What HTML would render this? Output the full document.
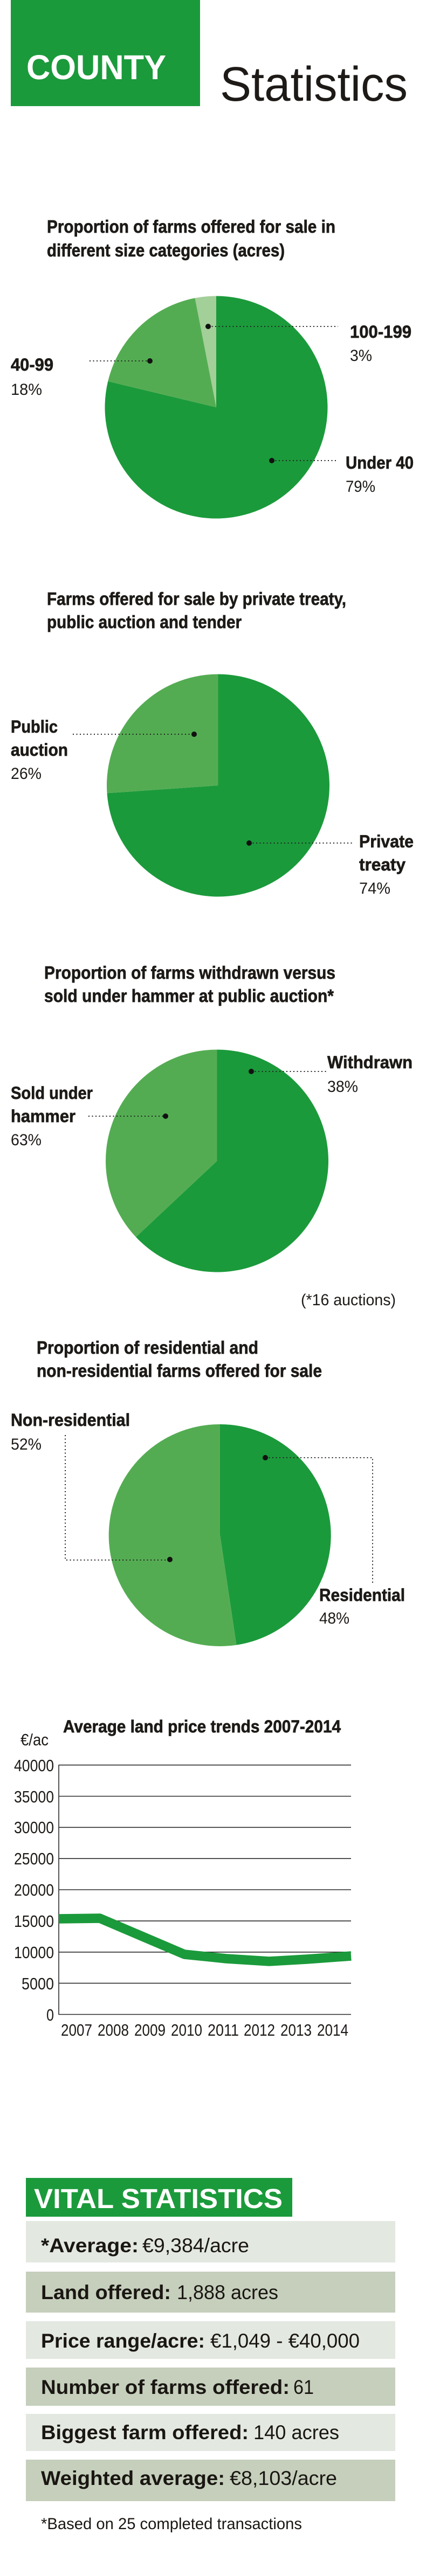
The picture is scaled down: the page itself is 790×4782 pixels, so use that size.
<!DOCTYPE html>
<html>
<head>
<meta charset="utf-8">
<style>
html,body{margin:0;padding:0;background:#fff;}
svg{display:block;}
.hb{stroke:#1d1a17;stroke-width:0.7;}
</style>
</head>
<body>
<svg width="790" height="4782" viewBox="0 0 790 4782" xmlns="http://www.w3.org/2000/svg" font-family="'Liberation Sans', Arial, sans-serif">
<rect x="0" y="0" width="790" height="4782" fill="#ffffff"/>

<!-- Header -->
<rect x="20" y="0" width="351" height="197" fill="#1b9a3b"/>
<text x="49" y="147" font-size="64" font-weight="bold" fill="#ffffff" textLength="259" lengthAdjust="spacingAndGlyphs">COUNTY</text>
<text x="408" y="187" font-size="90" fill="#1d1a17" textLength="348" lengthAdjust="spacingAndGlyphs">Statistics</text>

<g fill="#1d1a17">
<!-- Title 1 -->
<text class="hb" x="87" y="432" font-size="33" font-weight="bold" textLength="535" lengthAdjust="spacingAndGlyphs">Proportion of farms offered for sale in</text>
<text class="hb" x="87" y="476" font-size="33" font-weight="bold" textLength="441" lengthAdjust="spacingAndGlyphs">different size categories (acres)</text>
</g>

<!-- Pie 1 -->
<path d="M401,756 L401,549.5 A206.5,206.5 0 1 1 200.2,707.8 Z" fill="#1b9a3b"/>
<path d="M401,756 L200.2,707.8 A206.5,206.5 0 0 1 361.6,553.3 Z" fill="#54ac52"/>
<path d="M401,756 L361.6,553.3 A206.5,206.5 0 0 1 401,549.5 Z" fill="#a3cf98"/>
<g stroke="#222" stroke-width="2" stroke-dasharray="2 4.5" fill="none">
<line x1="386" y1="606" x2="627" y2="606"/>
<line x1="166" y1="670" x2="278" y2="670"/>
<line x1="504" y1="855" x2="627" y2="855"/>
</g>
<g fill="#111">
<circle cx="386" cy="606" r="5"/>
<circle cx="278" cy="670" r="5"/>
<circle cx="504" cy="855" r="5"/>
</g>
<g fill="#1d1a17">
<text class="hb" x="649" y="627" font-size="32" font-weight="bold" textLength="114" lengthAdjust="spacingAndGlyphs">100-199</text>
<text x="649" y="670" font-size="30" textLength="41" lengthAdjust="spacingAndGlyphs">3%</text>
<text class="hb" x="20" y="688" font-size="32" font-weight="bold" textLength="79" lengthAdjust="spacingAndGlyphs">40-99</text>
<text x="20" y="733" font-size="30" textLength="58" lengthAdjust="spacingAndGlyphs">18%</text>
<text class="hb" x="641" y="870" font-size="32" font-weight="bold" textLength="126" lengthAdjust="spacingAndGlyphs">Under 40</text>
<text x="641" y="913" font-size="30" textLength="55" lengthAdjust="spacingAndGlyphs">79%</text>

<!-- Title 2 -->
<text class="hb" x="87" y="1123" font-size="33" font-weight="bold" textLength="555" lengthAdjust="spacingAndGlyphs">Farms offered for sale by private treaty,</text>
<text class="hb" x="87" y="1166" font-size="33" font-weight="bold" textLength="361" lengthAdjust="spacingAndGlyphs">public auction and tender</text>
</g>

<!-- Pie 2 -->
<path d="M404.5,1458 L404.5,1251.5 A206.5,206.5 0 1 1 198.5,1472.4 Z" fill="#1b9a3b"/>
<path d="M404.5,1458 L198.5,1472.4 A206.5,206.5 0 0 1 404.5,1251.5 Z" fill="#54ac52"/>
<g stroke="#222" stroke-width="2" stroke-dasharray="2 4.5" fill="none">
<line x1="135" y1="1363" x2="360" y2="1363"/>
<line x1="462" y1="1565" x2="657" y2="1565"/>
</g>
<g fill="#111">
<circle cx="360" cy="1363" r="5"/>
<circle cx="462" cy="1565" r="5"/>
</g>
<g fill="#1d1a17">
<text class="hb" x="20" y="1360" font-size="32" font-weight="bold" textLength="87" lengthAdjust="spacingAndGlyphs">Public</text>
<text class="hb" x="20" y="1403" font-size="32" font-weight="bold" textLength="106" lengthAdjust="spacingAndGlyphs">auction</text>
<text x="20" y="1446" font-size="30" textLength="57" lengthAdjust="spacingAndGlyphs">26%</text>
<text class="hb" x="666" y="1573" font-size="32" font-weight="bold" textLength="101" lengthAdjust="spacingAndGlyphs">Private</text>
<text class="hb" x="666" y="1616" font-size="32" font-weight="bold" textLength="86" lengthAdjust="spacingAndGlyphs">treaty</text>
<text x="666" y="1659" font-size="30" textLength="58" lengthAdjust="spacingAndGlyphs">74%</text>

<!-- Title 3 -->
<text class="hb" x="82" y="1817" font-size="33" font-weight="bold" textLength="540" lengthAdjust="spacingAndGlyphs">Proportion of farms withdrawn versus</text>
<text class="hb" x="82" y="1860" font-size="33" font-weight="bold" textLength="537" lengthAdjust="spacingAndGlyphs">sold under hammer at public auction*</text>
</g>

<!-- Pie 3 -->
<path d="M402.5,2155 L402.5,1948.5 A206.5,206.5 0 1 1 252,2296.4 Z" fill="#1b9a3b"/>
<path d="M402.5,2155 L252,2296.4 A206.5,206.5 0 0 1 402.5,1948.5 Z" fill="#54ac52"/>
<g stroke="#222" stroke-width="2" stroke-dasharray="2 4.5" fill="none">
<line x1="466" y1="1989" x2="605" y2="1989"/>
<line x1="164" y1="2072" x2="307" y2="2072"/>
</g>
<g fill="#111">
<circle cx="466" cy="1989" r="5"/>
<circle cx="307" cy="2072" r="5"/>
</g>
<g fill="#1d1a17">
<text class="hb" x="607" y="1983" font-size="32" font-weight="bold" textLength="158" lengthAdjust="spacingAndGlyphs">Withdrawn</text>
<text x="607" y="2027" font-size="30" textLength="57" lengthAdjust="spacingAndGlyphs">38%</text>
<text class="hb" x="20" y="2040" font-size="32" font-weight="bold" textLength="152" lengthAdjust="spacingAndGlyphs">Sold under</text>
<text class="hb" x="20" y="2083" font-size="32" font-weight="bold" textLength="120" lengthAdjust="spacingAndGlyphs">hammer</text>
<text x="20" y="2126" font-size="30" textLength="57" lengthAdjust="spacingAndGlyphs">63%</text>
<text x="558" y="2423" font-size="30" textLength="176" lengthAdjust="spacingAndGlyphs">(*16 auctions)</text>

<!-- Title 4 -->
<text class="hb" x="68" y="2513" font-size="33" font-weight="bold" textLength="411" lengthAdjust="spacingAndGlyphs">Proportion of residential and</text>
<text class="hb" x="68" y="2556" font-size="33" font-weight="bold" textLength="529" lengthAdjust="spacingAndGlyphs">non-residential farms offered for sale</text>
</g>

<!-- Pie 4 -->
<path d="M408,2850 L408,2644 A206,206 0 0 1 438.4,3053.7 Z" fill="#1b9a3b"/>
<path d="M408,2850 L438.4,3053.7 A206,206 0 1 1 408,2644 Z" fill="#54ac52"/>
<g stroke="#222" stroke-width="2" stroke-dasharray="2 4.5" fill="none">
<path d="M121,2664 V2896 H315"/>
<path d="M492,2706 H691 V2939"/>
</g>
<g fill="#111">
<circle cx="315" cy="2895" r="5"/>
<circle cx="492" cy="2706" r="5"/>
</g>
<g fill="#1d1a17">
<text class="hb" x="20" y="2647" font-size="32" font-weight="bold" textLength="221" lengthAdjust="spacingAndGlyphs">Non-residential</text>
<text x="20" y="2691" font-size="30" textLength="57" lengthAdjust="spacingAndGlyphs">52%</text>
<text class="hb" x="592" y="2972" font-size="32" font-weight="bold" textLength="159" lengthAdjust="spacingAndGlyphs">Residential</text>
<text x="592" y="3014" font-size="30" textLength="56" lengthAdjust="spacingAndGlyphs">48%</text>

<!-- Title 5 -->
<text class="hb" x="117" y="3216" font-size="32" font-weight="bold" textLength="515" lengthAdjust="spacingAndGlyphs">Average land price trends 2007-2014</text>
</g>

<!-- Line chart -->
<g stroke="#2a2a2a" stroke-width="1.6">
<line x1="109" y1="3276.6" x2="651" y2="3276.6"/>
<line x1="109" y1="3334.5" x2="651" y2="3334.5"/>
<line x1="109" y1="3392.3" x2="651" y2="3392.3"/>
<line x1="109" y1="3450.2" x2="651" y2="3450.2"/>
<line x1="109" y1="3508.0" x2="651" y2="3508.0"/>
<line x1="109" y1="3565.9" x2="651" y2="3565.9"/>
<line x1="109" y1="3623.8" x2="651" y2="3623.8"/>
<line x1="109" y1="3681.6" x2="651" y2="3681.6"/>
<line x1="109" y1="3739.5" x2="651" y2="3739.5"/>
<line x1="109" y1="3276" x2="109" y2="3740"/>
</g>
<polyline points="109,3562 185,3561 342,3628 420,3636 499,3641 569,3637 651,3631" fill="none" stroke="#1b9a3b" stroke-width="17.5" stroke-linejoin="round" stroke-linecap="butt"/>
<g fill="#1d1a17" font-size="31">
<text x="38" y="3240" textLength="52" lengthAdjust="spacingAndGlyphs">€/ac</text>
<text x="26" y="3288" textLength="74" lengthAdjust="spacingAndGlyphs">40000</text>
<text x="26" y="3346" textLength="74" lengthAdjust="spacingAndGlyphs">35000</text>
<text x="26" y="3403" textLength="74" lengthAdjust="spacingAndGlyphs">30000</text>
<text x="26" y="3461" textLength="74" lengthAdjust="spacingAndGlyphs">25000</text>
<text x="26" y="3519" textLength="74" lengthAdjust="spacingAndGlyphs">20000</text>
<text x="26" y="3577" textLength="74" lengthAdjust="spacingAndGlyphs">15000</text>
<text x="26" y="3635" textLength="74" lengthAdjust="spacingAndGlyphs">10000</text>
<text x="40" y="3693" textLength="60" lengthAdjust="spacingAndGlyphs">5000</text>
<text x="86" y="3751" textLength="14" lengthAdjust="spacingAndGlyphs">0</text>
<text x="113" y="3779" textLength="58" lengthAdjust="spacingAndGlyphs">2007</text>
<text x="181" y="3779" textLength="58" lengthAdjust="spacingAndGlyphs">2008</text>
<text x="249" y="3779" textLength="58" lengthAdjust="spacingAndGlyphs">2009</text>
<text x="317" y="3779" textLength="58" lengthAdjust="spacingAndGlyphs">2010</text>
<text x="385" y="3779" textLength="58" lengthAdjust="spacingAndGlyphs">2011</text>
<text x="452" y="3779" textLength="58" lengthAdjust="spacingAndGlyphs">2012</text>
<text x="520" y="3779" textLength="58" lengthAdjust="spacingAndGlyphs">2013</text>
<text x="588" y="3779" textLength="58" lengthAdjust="spacingAndGlyphs">2014</text>
</g>

<!-- Vital statistics -->
<rect x="48" y="4043" width="494" height="72" fill="#1b9a3b"/>
<text x="63" y="4099" font-size="51" font-weight="bold" fill="#ffffff" textLength="461" lengthAdjust="spacingAndGlyphs">VITAL STATISTICS</text>

<rect x="48" y="4123" width="685" height="77" fill="#e3e8e1"/>
<rect x="48" y="4217" width="685" height="76" fill="#c5cfbc"/>
<rect x="48" y="4309" width="685" height="70" fill="#e3e8e1"/>
<rect x="48" y="4395" width="685" height="71" fill="#c5cfbc"/>
<rect x="48" y="4481" width="685" height="69" fill="#e3e8e1"/>
<rect x="48" y="4566" width="685" height="77" fill="#c5cfbc"/>

<g fill="#1a1612" font-size="37">
<text x="76" y="4181" font-weight="bold" textLength="181" lengthAdjust="spacingAndGlyphs">*Average:</text>
<text x="264" y="4181" textLength="198" lengthAdjust="spacingAndGlyphs">€9,384/acre</text>

<text x="76" y="4268" font-weight="bold" textLength="241" lengthAdjust="spacingAndGlyphs">Land offered:</text>
<text x="328" y="4268" textLength="188" lengthAdjust="spacingAndGlyphs">1,888 acres</text>

<text x="76" y="4358" font-weight="bold" textLength="304" lengthAdjust="spacingAndGlyphs">Price range/acre:</text>
<text x="390" y="4358" textLength="277" lengthAdjust="spacingAndGlyphs">€1,049 - €40,000</text>

<text x="76" y="4444" font-weight="bold" textLength="461" lengthAdjust="spacingAndGlyphs">Number of farms offered:</text>
<text x="544" y="4444" textLength="38" lengthAdjust="spacingAndGlyphs">61</text>

<text x="76" y="4528" font-weight="bold" textLength="385" lengthAdjust="spacingAndGlyphs">Biggest farm offered:</text>
<text x="470" y="4528" textLength="159" lengthAdjust="spacingAndGlyphs">140 acres</text>

<text x="76" y="4613" font-weight="bold" textLength="341" lengthAdjust="spacingAndGlyphs">Weighted average:</text>
<text x="426" y="4613" textLength="199" lengthAdjust="spacingAndGlyphs">€8,103/acre</text>
</g>

<text x="76" y="4695" font-size="30" fill="#1a1612" textLength="484" lengthAdjust="spacingAndGlyphs">*Based on 25 completed transactions</text>
</svg>
</body>
</html>
